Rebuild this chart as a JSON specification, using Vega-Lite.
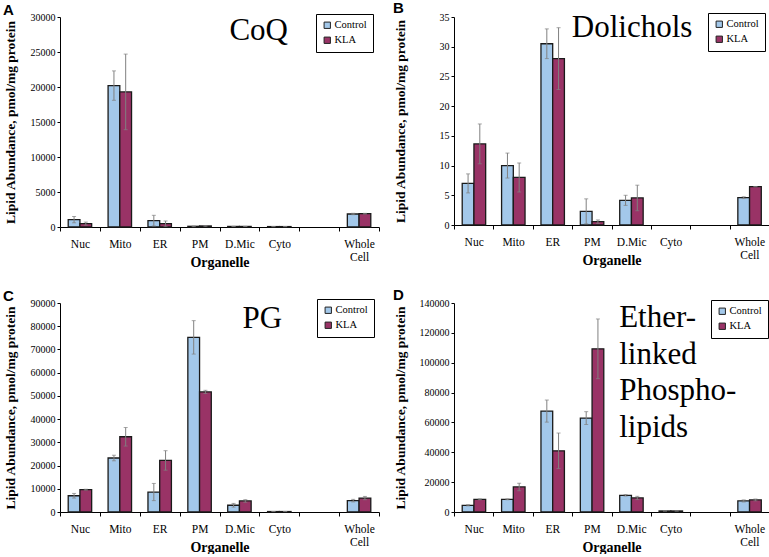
{
  "$schema": "https://vega.github.io/schema/vega-lite/v6.json",
  "background": "white",
  "padding": {"left": 2, "top": 1, "right": 0, "bottom": 0},
  "columns": 2,
  "spacing": {"row": 19, "column": 12},
  "datasets": {
    "coq": [
      {"org": "Nuc", "grp": "Control", "value": 1050, "lo": 600, "hi": 1500},
      {"org": "Nuc", "grp": "KLA", "value": 480, "lo": 260, "hi": 700},
      {"org": "Mito", "grp": "Control", "value": 20200, "lo": 18100, "hi": 22300},
      {"org": "Mito", "grp": "KLA", "value": 19300, "lo": 13900, "hi": 24700},
      {"org": "ER", "grp": "Control", "value": 900, "lo": 150, "hi": 1670},
      {"org": "ER", "grp": "KLA", "value": 480, "lo": 100, "hi": 860},
      {"org": "PM", "grp": "Control", "value": 100, "lo": 60, "hi": 140},
      {"org": "PM", "grp": "KLA", "value": 150, "lo": 100, "hi": 200},
      {"org": "D.Mic", "grp": "Control", "value": 80, "lo": 80, "hi": 80},
      {"org": "D.Mic", "grp": "KLA", "value": 80, "lo": 80, "hi": 80},
      {"org": "Cyto", "grp": "Control", "value": 60, "lo": 60, "hi": 60},
      {"org": "Cyto", "grp": "KLA", "value": 60, "lo": 60, "hi": 60},
      {"org": "Whole Cell", "grp": "Control", "value": 1860, "lo": 1760, "hi": 1960},
      {"org": "Whole Cell", "grp": "KLA", "value": 1900, "lo": 1850, "hi": 1950}
    ],
    "dol": [
      {"org": "Nuc", "grp": "Control", "value": 7.0, "lo": 5.4, "hi": 8.6},
      {"org": "Nuc", "grp": "KLA", "value": 13.65, "lo": 10.3, "hi": 17.0},
      {"org": "Mito", "grp": "Control", "value": 10.0, "lo": 7.9, "hi": 12.1},
      {"org": "Mito", "grp": "KLA", "value": 8.0, "lo": 5.55, "hi": 10.45},
      {"org": "ER", "grp": "Control", "value": 30.5, "lo": 28.0, "hi": 33.0},
      {"org": "ER", "grp": "KLA", "value": 28.0, "lo": 22.8, "hi": 33.2},
      {"org": "PM", "grp": "Control", "value": 2.3, "lo": 0.2, "hi": 4.4},
      {"org": "PM", "grp": "KLA", "value": 0.56, "lo": 0.27, "hi": 0.85},
      {"org": "D.Mic", "grp": "Control", "value": 4.15, "lo": 3.3, "hi": 5.0},
      {"org": "D.Mic", "grp": "KLA", "value": 4.55, "lo": 2.4, "hi": 6.7},
      {"org": "Whole Cell", "grp": "Control", "value": 4.6, "lo": 4.45, "hi": 4.75},
      {"org": "Whole Cell", "grp": "KLA", "value": 6.45, "lo": 6.45, "hi": 6.45}
    ],
    "pg": [
      {"org": "Nuc", "grp": "Control", "value": 7000, "lo": 6000, "hi": 8000},
      {"org": "Nuc", "grp": "KLA", "value": 9600, "lo": 9400, "hi": 9800},
      {"org": "Mito", "grp": "Control", "value": 23250, "lo": 22050, "hi": 24450},
      {"org": "Mito", "grp": "KLA", "value": 32400, "lo": 28400, "hi": 36400},
      {"org": "ER", "grp": "Control", "value": 8600, "lo": 4900, "hi": 12300},
      {"org": "ER", "grp": "KLA", "value": 22200, "lo": 18000, "hi": 26400},
      {"org": "PM", "grp": "Control", "value": 75200, "lo": 68000, "hi": 82400},
      {"org": "PM", "grp": "KLA", "value": 51700, "lo": 51000, "hi": 52400},
      {"org": "D.Mic", "grp": "Control", "value": 2900, "lo": 2100, "hi": 3700},
      {"org": "D.Mic", "grp": "KLA", "value": 4750, "lo": 4200, "hi": 5300},
      {"org": "Cyto", "grp": "Control", "value": 200, "lo": 200, "hi": 200},
      {"org": "Cyto", "grp": "KLA", "value": 200, "lo": 200, "hi": 200},
      {"org": "Whole Cell", "grp": "Control", "value": 4900, "lo": 4350, "hi": 5450},
      {"org": "Whole Cell", "grp": "KLA", "value": 6000, "lo": 5300, "hi": 6700}
    ],
    "eth": [
      {"org": "Nuc", "grp": "Control", "value": 4500, "lo": 4100, "hi": 4900},
      {"org": "Nuc", "grp": "KLA", "value": 8500, "lo": 8200, "hi": 8800},
      {"org": "Mito", "grp": "Control", "value": 8500, "lo": 8200, "hi": 8800},
      {"org": "Mito", "grp": "KLA", "value": 16800, "lo": 14300, "hi": 19300},
      {"org": "ER", "grp": "Control", "value": 67600, "lo": 60200, "hi": 75000},
      {"org": "ER", "grp": "KLA", "value": 41000, "lo": 29100, "hi": 52900},
      {"org": "PM", "grp": "Control", "value": 62900, "lo": 58600, "hi": 67200},
      {"org": "PM", "grp": "KLA", "value": 109300, "lo": 89300, "hi": 129300},
      {"org": "D.Mic", "grp": "Control", "value": 11200, "lo": 10700, "hi": 11700},
      {"org": "D.Mic", "grp": "KLA", "value": 9400, "lo": 8300, "hi": 10500},
      {"org": "Cyto", "grp": "Control", "value": 700, "lo": 700, "hi": 700},
      {"org": "Cyto", "grp": "KLA", "value": 700, "lo": 700, "hi": 700},
      {"org": "Whole Cell", "grp": "Control", "value": 7400, "lo": 6700, "hi": 8100},
      {"org": "Whole Cell", "grp": "KLA", "value": 8100, "lo": 7500, "hi": 8700}
    ]
  },
  "concat": [
    {
      "width": 319, "height": 210,
      "title": {"text": "A", "offset": -6},
      "data": {"name": "coq"},
      "encoding": {
        "x": {"field": "org", "type": "nominal", "title": "Organelle",
          "scale": {"domain": ["Nuc", "Mito", "ER", "PM", "D.Mic", "Cyto", " ", "Whole Cell"], "paddingInner": 0, "paddingOuter": 0},
          "axis": {"labelExpr": "datum.value == 'Whole Cell' ? ['Whole', 'Cell'] : datum.value"}}
      },
      "layer": [
        {"mark": {"type": "bar", "stroke": "#1a1a1a", "strokeWidth": 1.3},
          "encoding": {
            "xOffset": {"field": "grp", "type": "nominal", "scale": {"domain": ["Control", "KLA"], "paddingInner": 0, "paddingOuter": 0.7}},
            "y": {"field": "value", "type": "quantitative", "title": "Lipid Abundance, pmol/mg protein", "scale": {"domain": [0, 30000]},
              "axis": {"values": [0, 5000, 10000, 15000, 20000, 25000, 30000], "titleX": -43}},
            "color": {"field": "grp", "type": "nominal", "scale": {"domain": ["Control", "KLA"], "range": ["#a3c8ea", "#993366"]},
              "legend": {"title": null, "orient": "none", "legendX": 256, "legendY": -3}}
          }},
        {"mark": {"type": "rule", "color": "#808080", "strokeWidth": 1},
          "encoding": {
            "xOffset": {"field": "grp", "type": "nominal", "scale": {"domain": ["Control", "KLA"], "paddingInner": 0, "paddingOuter": 0.7}},
            "y": {"field": "lo", "type": "quantitative", "title": "Lipid Abundance, pmol/mg protein",
              "axis": {"values": [0, 5000, 10000, 15000, 20000, 25000, 30000], "titleX": -43}},
            "y2": {"field": "hi"}
          }},
        {"mark": {"type": "tick", "color": "#808080", "size": 4, "thickness": 1},
          "encoding": {
            "xOffset": {"field": "grp", "type": "nominal", "scale": {"domain": ["Control", "KLA"], "paddingInner": 0, "paddingOuter": 0.7}},
            "y": {"field": "hi", "type": "quantitative", "title": "Lipid Abundance, pmol/mg protein",
              "axis": {"values": [0, 5000, 10000, 15000, 20000, 25000, 30000], "titleX": -43}}
          }},
        {"mark": {"type": "tick", "color": "#808080", "size": 4, "thickness": 1},
          "encoding": {
            "xOffset": {"field": "grp", "type": "nominal", "scale": {"domain": ["Control", "KLA"], "paddingInner": 0, "paddingOuter": 0.7}},
            "y": {"field": "lo", "type": "quantitative", "title": "Lipid Abundance, pmol/mg protein",
              "axis": {"values": [0, 5000, 10000, 15000, 20000, 25000, 30000], "titleX": -43}}
          }},
        {"data": {"values": [{"t": "CoQ"}]},
          "mark": {"type": "text", "font": "Liberation Serif", "fontSize": 31, "align": "left", "baseline": "alphabetic", "dx": -10, "color": "black"},
          "encoding": {
            "x": {"datum": "D.Mic", "type": "nominal"},
            "y": {"datum": 26714, "type": "quantitative", "title": "Lipid Abundance, pmol/mg protein",
              "axis": {"values": [0, 5000, 10000, 15000, 20000, 25000, 30000], "titleX": -43}},
            "text": {"field": "t"}
          }}
      ]
    },
    {
      "width": 315, "height": 208,
      "title": {"text": "B", "offset": -4},
      "data": {"name": "dol"},
      "encoding": {
        "x": {"field": "org", "type": "nominal", "title": "Organelle",
          "scale": {"domain": ["Nuc", "Mito", "ER", "PM", "D.Mic", "Cyto", " ", "Whole Cell"], "paddingInner": 0, "paddingOuter": 0},
          "axis": {"labelExpr": "datum.value == 'Whole Cell' ? ['Whole', 'Cell'] : datum.value"}}
      },
      "layer": [
        {"mark": {"type": "bar", "stroke": "#1a1a1a", "strokeWidth": 1.3},
          "encoding": {
            "xOffset": {"field": "grp", "type": "nominal", "scale": {"domain": ["Control", "KLA"], "paddingInner": 0, "paddingOuter": 0.7}},
            "y": {"field": "value", "type": "quantitative", "title": "Lipid Abundance, pmol/mg protein", "scale": {"domain": [0, 35]},
              "axis": {"values": [0, 5, 10, 15, 20, 25, 30, 35], "titleX": -47}},
            "color": {"field": "grp", "type": "nominal", "scale": {"domain": ["Control", "KLA"], "range": ["#a3c8ea", "#993366"]},
              "legend": {"title": null, "orient": "none", "legendX": 254, "legendY": -4}}
          }},
        {"mark": {"type": "rule", "color": "#808080", "strokeWidth": 1},
          "encoding": {
            "xOffset": {"field": "grp", "type": "nominal", "scale": {"domain": ["Control", "KLA"], "paddingInner": 0, "paddingOuter": 0.7}},
            "y": {"field": "lo", "type": "quantitative", "title": "Lipid Abundance, pmol/mg protein",
              "axis": {"values": [0, 5, 10, 15, 20, 25, 30, 35], "titleX": -47}},
            "y2": {"field": "hi"}
          }},
        {"mark": {"type": "tick", "color": "#808080", "size": 4, "thickness": 1},
          "encoding": {
            "xOffset": {"field": "grp", "type": "nominal", "scale": {"domain": ["Control", "KLA"], "paddingInner": 0, "paddingOuter": 0.7}},
            "y": {"field": "hi", "type": "quantitative", "title": "Lipid Abundance, pmol/mg protein",
              "axis": {"values": [0, 5, 10, 15, 20, 25, 30, 35], "titleX": -47}}
          }},
        {"mark": {"type": "tick", "color": "#808080", "size": 4, "thickness": 1},
          "encoding": {
            "xOffset": {"field": "grp", "type": "nominal", "scale": {"domain": ["Control", "KLA"], "paddingInner": 0, "paddingOuter": 0.7}},
            "y": {"field": "lo", "type": "quantitative", "title": "Lipid Abundance, pmol/mg protein",
              "axis": {"values": [0, 5, 10, 15, 20, 25, 30, 35], "titleX": -47}}
          }},
        {"data": {"values": [{"t": "Dolichols"}]},
          "mark": {"type": "text", "font": "Liberation Serif", "fontSize": 31, "align": "left", "baseline": "alphabetic", "dx": -20, "color": "black"},
          "encoding": {
            "x": {"datum": "PM", "type": "nominal"},
            "y": {"datum": 31.58, "type": "quantitative", "title": "Lipid Abundance, pmol/mg protein",
              "axis": {"values": [0, 5, 10, 15, 20, 25, 30, 35], "titleX": -47}},
            "text": {"field": "t"}
          }}
      ]
    },
    {
      "width": 319, "height": 209,
      "title": {"text": "C", "offset": -6},
      "data": {"name": "pg"},
      "encoding": {
        "x": {"field": "org", "type": "nominal", "title": "Organelle",
          "scale": {"domain": ["Nuc", "Mito", "ER", "PM", "D.Mic", "Cyto", " ", "Whole Cell"], "paddingInner": 0, "paddingOuter": 0},
          "axis": {"labelExpr": "datum.value == 'Whole Cell' ? ['Whole', 'Cell'] : datum.value"}}
      },
      "layer": [
        {"mark": {"type": "bar", "stroke": "#1a1a1a", "strokeWidth": 1.3},
          "encoding": {
            "xOffset": {"field": "grp", "type": "nominal", "scale": {"domain": ["Control", "KLA"], "paddingInner": 0, "paddingOuter": 0.7}},
            "y": {"field": "value", "type": "quantitative", "title": "Lipid Abundance, pmol/mg protein", "scale": {"domain": [0, 90000]},
              "axis": {"values": [0, 10000, 20000, 30000, 40000, 50000, 60000, 70000, 80000, 90000], "titleX": -43}},
            "color": {"field": "grp", "type": "nominal", "scale": {"domain": ["Control", "KLA"], "range": ["#a3c8ea", "#993366"]},
              "legend": {"title": null, "orient": "none", "legendX": 257, "legendY": -4}}
          }},
        {"mark": {"type": "rule", "color": "#808080", "strokeWidth": 1},
          "encoding": {
            "xOffset": {"field": "grp", "type": "nominal", "scale": {"domain": ["Control", "KLA"], "paddingInner": 0, "paddingOuter": 0.7}},
            "y": {"field": "lo", "type": "quantitative", "title": "Lipid Abundance, pmol/mg protein",
              "axis": {"values": [0, 10000, 20000, 30000, 40000, 50000, 60000, 70000, 80000, 90000], "titleX": -43}},
            "y2": {"field": "hi"}
          }},
        {"mark": {"type": "tick", "color": "#808080", "size": 4, "thickness": 1},
          "encoding": {
            "xOffset": {"field": "grp", "type": "nominal", "scale": {"domain": ["Control", "KLA"], "paddingInner": 0, "paddingOuter": 0.7}},
            "y": {"field": "hi", "type": "quantitative", "title": "Lipid Abundance, pmol/mg protein",
              "axis": {"values": [0, 10000, 20000, 30000, 40000, 50000, 60000, 70000, 80000, 90000], "titleX": -43}}
          }},
        {"mark": {"type": "tick", "color": "#808080", "size": 4, "thickness": 1},
          "encoding": {
            "xOffset": {"field": "grp", "type": "nominal", "scale": {"domain": ["Control", "KLA"], "paddingInner": 0, "paddingOuter": 0.7}},
            "y": {"field": "lo", "type": "quantitative", "title": "Lipid Abundance, pmol/mg protein",
              "axis": {"values": [0, 10000, 20000, 30000, 40000, 50000, 60000, 70000, 80000, 90000], "titleX": -43}}
          }},
        {"data": {"values": [{"t": "PG"}]},
          "mark": {"type": "text", "font": "Liberation Serif", "fontSize": 31, "align": "left", "baseline": "alphabetic", "dx": 3, "color": "black"},
          "encoding": {
            "x": {"datum": "D.Mic", "type": "nominal"},
            "y": {"datum": 79234, "type": "quantitative", "title": "Lipid Abundance, pmol/mg protein",
              "axis": {"values": [0, 10000, 20000, 30000, 40000, 50000, 60000, 70000, 80000, 90000], "titleX": -43}},
            "text": {"field": "t"}
          }}
      ]
    },
    {
      "width": 315, "height": 209,
      "title": {"text": "D", "offset": -5},
      "data": {"name": "eth"},
      "encoding": {
        "x": {"field": "org", "type": "nominal", "title": "Organelle",
          "scale": {"domain": ["Nuc", "Mito", "ER", "PM", "D.Mic", "Cyto", " ", "Whole Cell"], "paddingInner": 0, "paddingOuter": 0},
          "axis": {"labelExpr": "datum.value == 'Whole Cell' ? ['Whole', 'Cell'] : datum.value"}}
      },
      "layer": [
        {"mark": {"type": "bar", "stroke": "#1a1a1a", "strokeWidth": 1.3},
          "encoding": {
            "xOffset": {"field": "grp", "type": "nominal", "scale": {"domain": ["Control", "KLA"], "paddingInner": 0, "paddingOuter": 0.7}},
            "y": {"field": "value", "type": "quantitative", "title": "Lipid Abundance, pmol/mg protein", "scale": {"domain": [0, 140000]},
              "axis": {"values": [0, 20000, 40000, 60000, 80000, 100000, 120000, 140000], "titleX": -47}},
            "color": {"field": "grp", "type": "nominal", "scale": {"domain": ["Control", "KLA"], "range": ["#a3c8ea", "#993366"]},
              "legend": {"title": null, "orient": "none", "legendX": 257, "legendY": -3}}
          }},
        {"mark": {"type": "rule", "color": "#808080", "strokeWidth": 1},
          "encoding": {
            "xOffset": {"field": "grp", "type": "nominal", "scale": {"domain": ["Control", "KLA"], "paddingInner": 0, "paddingOuter": 0.7}},
            "y": {"field": "lo", "type": "quantitative", "title": "Lipid Abundance, pmol/mg protein",
              "axis": {"values": [0, 20000, 40000, 60000, 80000, 100000, 120000, 140000], "titleX": -47}},
            "y2": {"field": "hi"}
          }},
        {"mark": {"type": "tick", "color": "#808080", "size": 4, "thickness": 1},
          "encoding": {
            "xOffset": {"field": "grp", "type": "nominal", "scale": {"domain": ["Control", "KLA"], "paddingInner": 0, "paddingOuter": 0.7}},
            "y": {"field": "hi", "type": "quantitative", "title": "Lipid Abundance, pmol/mg protein",
              "axis": {"values": [0, 20000, 40000, 60000, 80000, 100000, 120000, 140000], "titleX": -47}}
          }},
        {"mark": {"type": "tick", "color": "#808080", "size": 4, "thickness": 1},
          "encoding": {
            "xOffset": {"field": "grp", "type": "nominal", "scale": {"domain": ["Control", "KLA"], "paddingInner": 0, "paddingOuter": 0.7}},
            "y": {"field": "lo", "type": "quantitative", "title": "Lipid Abundance, pmol/mg protein",
              "axis": {"values": [0, 20000, 40000, 60000, 80000, 100000, 120000, 140000], "titleX": -47}}
          }},
        {"data": {"values": [{"t": ["Ether-", "linked", "Phospho-", "lipids"]}]},
          "mark": {"type": "text", "font": "Liberation Serif", "fontSize": 31, "lineHeight": 36.5, "align": "left", "baseline": "alphabetic", "dx": -12, "color": "black"},
          "encoding": {
            "x": {"datum": "D.Mic", "type": "nominal"},
            "y": {"datum": 123923, "type": "quantitative", "title": "Lipid Abundance, pmol/mg protein",
              "axis": {"values": [0, 20000, 40000, 60000, 80000, 100000, 120000, 140000], "titleX": -47}},
            "text": {"field": "t"}
          }}
      ]
    }
  ],
  "resolve": {
    "scale": {"x": "independent", "y": "independent", "color": "independent"},
    "legend": {"color": "independent"}
  },
  "config": {
    "font": "Liberation Serif",
    "view": {"stroke": null},
    "axis": {"domainColor": "black", "tickColor": "black", "labelColor": "black", "titleColor": "black", "grid": false,
      "labelFont": "Liberation Serif", "titleFont": "Liberation Serif", "domainWidth": 1, "titleFontWeight": "bold"},
    "axisX": {"labelAngle": 0, "tickBand": "extent", "tickSize": 4, "labelPadding": 7.5, "labelFontSize": 11.5, "labelLineHeight": 13,
      "titleFontSize": 14, "titleY": 39, "titleBaseline": "alphabetic"},
    "axisY": {"format": "d", "tickSize": 3, "labelPadding": 2, "labelFontSize": 10, "labelOverlap": false,
      "titleFontSize": 13.5, "titleAngle": 270, "titleBaseline": "bottom", "titleAlign": "center"},
    "legend": {"strokeColor": "black", "fillColor": "white", "padding": 6, "symbolType": "square", "symbolSize": 40,
      "symbolStrokeColor": "#222", "symbolStrokeWidth": 1, "labelFont": "Liberation Serif", "labelFontSize": 10.5,
      "labelColor": "black", "rowPadding": 4, "labelOffset": 2},
    "text": {"font": "Liberation Serif"},
    "title": {"font": "Liberation Sans", "fontWeight": "bold", "fontSize": 15, "anchor": "start", "frame": "bounds", "color": "black"}
  }
}
